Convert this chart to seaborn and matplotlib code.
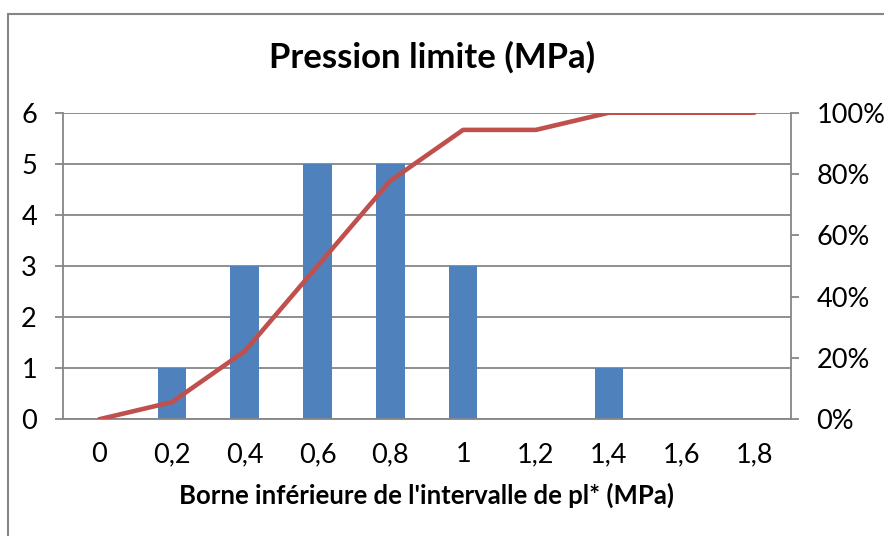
import numpy as np
import pandas as pd
import matplotlib
matplotlib.use("Agg")
import matplotlib.pyplot as plt
import seaborn as sns
from matplotlib.ticker import FuncFormatter

sns.set_theme(style="white")
plt.rcParams['font.family'] = ['Lato', 'DejaVu Sans']

# Class lower bounds (MPa), counts per class and cumulative frequency (%)
bornes = ["0", "0,2", "0,4", "0,6", "0,8", "1", "1,2", "1,4", "1,6", "1,8"]
effectifs = [0, 1, 3, 5, 5, 3, 0, 1, 0, 0]
cumul_pct = [0, 5.6, 22.2, 50.0, 77.8, 94.4, 94.4, 100, 100, 100]

df = pd.DataFrame({"borne": bornes, "n": effectifs, "cumul": cumul_pct})

BLUE = "#4F81BD"
RED = "#C0504D"
GRID = "#868686"
TICK = 19.5

fig = plt.figure(figsize=(8.84, 5.36), dpi=100)
ax = fig.add_axes([0.0709, 0.2177, 0.8236, 0.572])

sns.barplot(data=df, x="borne", y="n", order=bornes, color=BLUE,
            width=0.39, saturation=1, linewidth=0, ax=ax, zorder=2)
ax.set_xlim(-0.5, len(bornes) - 0.5)
ax.set_ylim(0, 6)
ax.set_yticks(range(0, 7))
ax.yaxis.grid(True, color=GRID, linewidth=1.3, zorder=0)
ax.set_axisbelow(True)

for s in ["top", "right"]:
    ax.spines[s].set_visible(False)
for s in ["left", "bottom"]:
    ax.spines[s].set_color(GRID)
    ax.spines[s].set_linewidth(1.3)

# category boundary ticks on the x axis
ax.set_xticks(np.arange(-0.5, len(bornes) + 0.5, 1), minor=True)
ax.tick_params(axis="x", which="minor", length=5.5, width=1.3, color=GRID, direction="out")
ax.tick_params(axis="x", which="major", length=0, labelsize=TICK, pad=16.5, labelcolor="black")
ax.tick_params(axis="y", length=5.5, width=1.3, color=GRID, labelsize=TICK, pad=13, labelcolor="black")
ax.set_xlabel("Borne inférieure de l'intervalle de pl* (MPa)", fontsize=18.5,
              fontweight="bold", labelpad=11, color="black")
ax.set_ylabel("")

ax2 = ax.twinx()
sns.lineplot(x=np.arange(len(bornes)), y=df["cumul"], color=RED, linewidth=3.3,
             ax=ax2, zorder=3)
ax2.set_ylim(0, 100)
ax2.set_yticks(range(0, 101, 20))
ax2.yaxis.set_major_formatter(FuncFormatter(lambda v, p: f"{int(v)}%"))
ax2.tick_params(axis="y", length=5.5, width=1.3, color=GRID, labelsize=TICK, pad=13, labelcolor="black")
ax2.set_ylabel("")
for s in ["top", "left", "bottom"]:
    ax2.spines[s].set_visible(False)
ax2.spines["right"].set_color(GRID)
ax2.spines["right"].set_linewidth(1.3)
ax2.set_xlim(-0.5, len(bornes) - 0.5)

fig.text(0.489, 0.893, "Pression limite (MPa)", ha="center", va="center",
         fontsize=25, fontweight="bold", color="black")

# outer chart frame (left and top edges)
fig.add_artist(plt.Line2D([0.0085, 0.0085], [0, 0.974], color=GRID, linewidth=1.5,
                          transform=fig.transFigure))
fig.add_artist(plt.Line2D([0.0085, 1.0], [0.974, 0.974], color=GRID, linewidth=1.5,
                          transform=fig.transFigure))

fig.savefig("out.png", dpi=100)
